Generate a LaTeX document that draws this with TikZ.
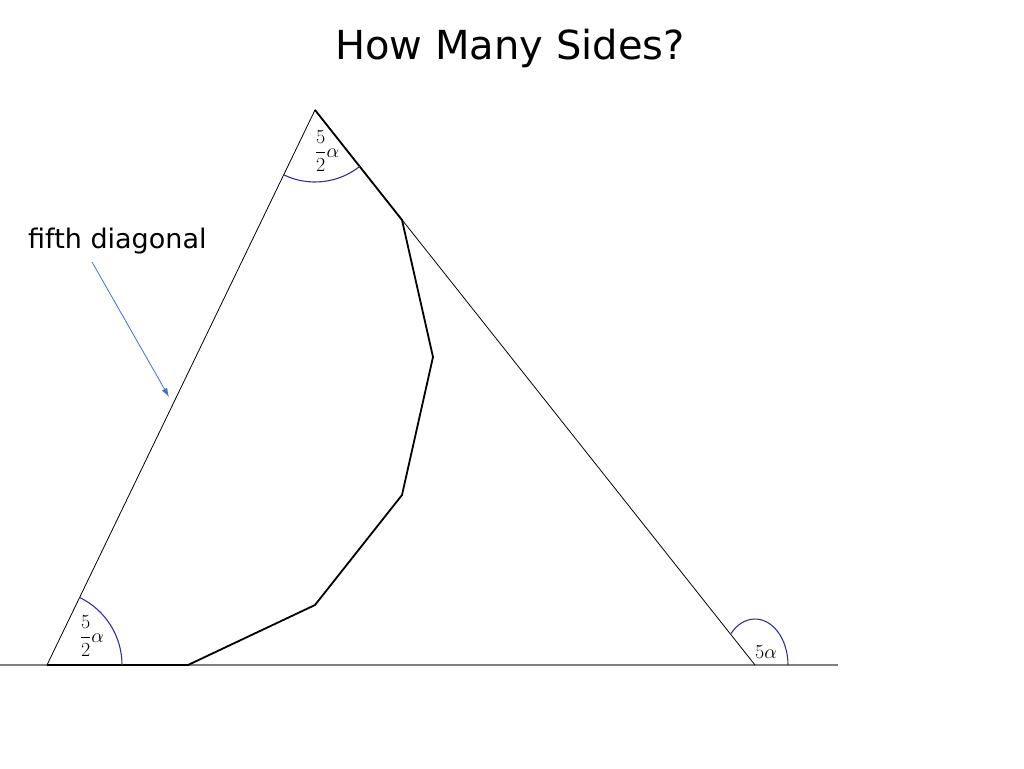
\RequirePackage{fix-cm}
\documentclass[tikz,border=0pt]{standalone}
\usepackage{fontspec}
\newfontfamily\comic{DejaVu Sans}
\usetikzlibrary{arrows.meta}
\begin{document}
\begin{tikzpicture}[x=1pt,y=-1pt,
  side/.style={black, line width=0.8pt},
  poly/.style={black, line width=1.8pt, line join=miter},
  ground/.style={gray, line width=1.4pt},
  angarc/.style={draw=blue!45!black!80, line width=1.1pt},
  pointer/.style={draw={rgb,255:red,68;green,114;blue,196}, line width=0.8pt, -{Latex[length=9pt,width=6pt]}},
  lbl/.style={inner sep=0pt, font=\fontsize{20}{24}\selectfont}
]
\useasboundingbox[fill=white] (0,0) rectangle (1024,768);
\coordinate (A) at (315,110);
\coordinate (B) at (47,665);
\coordinate (C) at (755,665);
\coordinate (P1) at (402,220);
\coordinate (P2) at (433,357);
\coordinate (P3) at (402,495);
\coordinate (P4) at (315,605);
\coordinate (P5) at (188,665);
\coordinate (GL) at (0,665);
\coordinate (GR) at (838,665);
\coordinate (T1) at (92,262);
\coordinate (T2) at (169,397);

\draw[ground] (GL) -- (GR);
\draw[side] (B) -- (A) -- (C);
\draw[poly] (A) -- (P1) -- (P2) -- (P3) -- (P4) -- (P5) -- (B);

\draw[angarc] ([shift={(51.6:72)}]A) arc[start angle=51.6, end angle=115.8, radius=72];
\draw[angarc] ([shift={(-64.2:75)}]B) arc[start angle=-64.2, end angle=0, radius=75];
\draw[angarc] ([shift={(-137.2:33 and 46)}]C) arc[start angle=-137.2, end angle=0, x radius=33, y radius=46];

\draw[pointer] (T1) -- (T2);

\node[font=\comic\fontsize{40}{46}\selectfont, anchor=center] (title) at (510,48) {How Many Sides?};
\node[font=\comic\fontsize{27}{32}\selectfont, anchor=west, inner sep=0pt] (fifth) at (28,241) {fifth diagonal};

\node[lbl] (la) at (327,151) {$\displaystyle\frac{5}{2}\alpha$};
\node[lbl] (lb) at (92,636) {$\displaystyle\frac{5}{2}\alpha$};
\node[lbl] (lc) at (766,652) {$5\alpha$};
\end{tikzpicture}
\end{document}
